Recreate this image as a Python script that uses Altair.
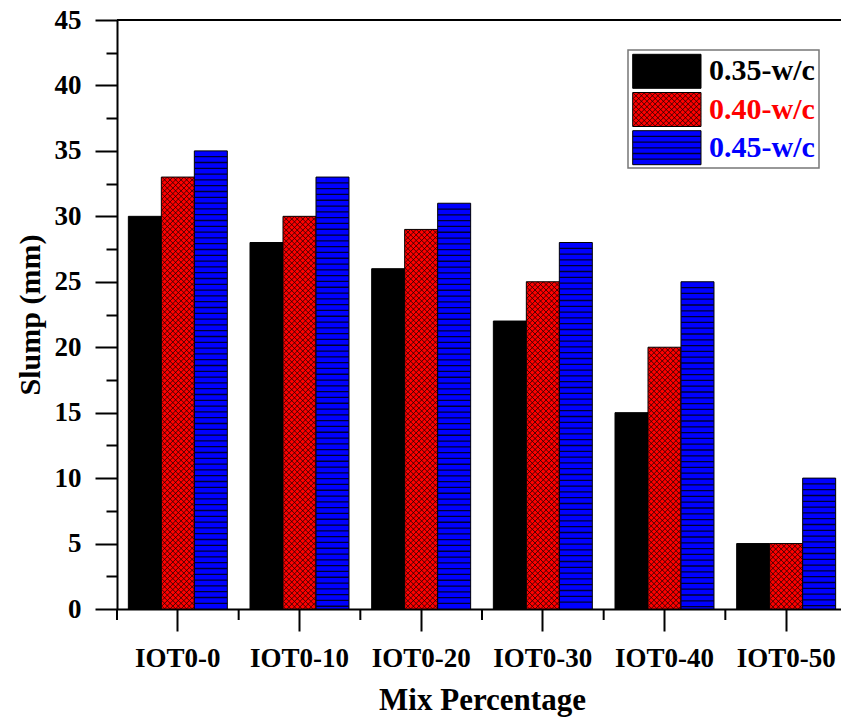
import altair as alt
import pandas as pd

# ---- data -------------------------------------------------------------
categories = ["IOT0-0", "IOT0-10", "IOT0-20", "IOT0-30", "IOT0-40", "IOT0-50"]
series_names = ["0.35-w/c", "0.40-w/c", "0.45-w/c"]
slump_035 = [30, 28, 26, 22, 15, 5]
slump_040 = [33, 30, 29, 25, 20, 5]
slump_045 = [35, 33, 31, 28, 25, 10]
series_colors = ["#000000", "#ff0000", "#0000ff"]

# ---- geometry ---------------------------------------------------------
W, H = 724, 589            # visible plot area
X_RANGE = 730              # band range (right frame falls just outside the page)
Y_MAX = 45
PX = H / Y_MAX             # pixels per mm of slump
OFF_PAD = 0.344            # outer padding of the sub-bands inside each group
BAR_W = X_RANGE / len(categories) / (3 + 2 * OFF_PAD)
FONT = "Liberation Serif"
TICK_FS = 27

rows = []
for name, vals in zip(series_names, [slump_035, slump_040, slump_045]):
    for cat, v in zip(categories, vals):
        rows.append({"mix": cat, "wc": name, "slump": v})
df = pd.DataFrame(rows)
mix_df = pd.DataFrame({"mix": categories})


def hatch_path(w, h, p, y0=0.0):
    """Diagonal cross-hatch tile of size w x h (pixels), clipped to the tile."""
    half = w / 2
    segs = []
    x = -half - h
    while x < half:
        t0 = max(0.0, -half - x)
        t1 = min(h, half - x)
        if t1 > t0:
            segs.append(f"M{x + t0:.2f},{y0 + t0:.2f}L{x + t1:.2f},{y0 + t1:.2f}")
            segs.append(f"M{x + t0:.2f},{y0 + h - t0:.2f}L{x + t1:.2f},{y0 + h - t1:.2f}")
        x += p
    return "".join(segs)


def hline_path(w, h, gap):
    half_w, half_h = w / 2, h / 2
    segs = []
    y = -half_h + gap
    while y < half_h - 1:
        segs.append(f"M{-half_w:.2f},{y:.2f}L{half_w:.2f},{y:.2f}")
        y += gap
    return "".join(segs)


# ---- shared encodings --------------------------------------------------
def x_enc(band_position=None):
    kw = {}
    if band_position is not None:
        kw["bandPosition"] = band_position
    return alt.X(
        "mix:N",
        sort=categories,
        title="Mix Percentage",
        scale=alt.Scale(domain=categories, range=[0, X_RANGE],
                        paddingInner=0, paddingOuter=0),
        axis=alt.Axis(
            labelAngle=0, labelFont=FONT, labelFontSize=TICK_FS, labelFontWeight="bold",
            labelColor="black", labelPadding=14,
            tickSize=22, tickWidth=2, tickColor="black",
            domainWidth=2, domainColor="black",
            titleFont=FONT, titleFontSize=31, titleFontWeight="bold",
            titleColor="black", titlePadding=14,
        ),
        **kw,
    )


xo_enc = alt.XOffset(
    "wc:N",
    scale=alt.Scale(domain=series_names, paddingInner=0, paddingOuter=OFF_PAD),
)

y_ticks = [i * 2.5 for i in range(19)]
y_enc = alt.Y(
    "slump:Q",
    title="Slump (mm)",
    scale=alt.Scale(domain=[0, Y_MAX], nice=False),
    axis=alt.Axis(
        values=y_ticks, format="d",
        labelExpr="datum.value % 5 === 0 ? datum.label : ''",
        labelOverlap=False,
        labelFont=FONT, labelFontSize=TICK_FS, labelFontWeight="bold",
        labelColor="black", labelPadding=14,
        tickSize={"condition": {"test": "datum.value % 5 === 0", "value": 22}, "value": 11},
        tickWidth=2, tickColor="black",
        domainWidth=2, domainColor="black", grid=False,
        titleFont=FONT, titleFontSize=30, titleFontWeight="bold",
        titleColor="black", titlePadding=9,
    ),
)

color_enc = alt.Color(
    "wc:N", scale=alt.Scale(domain=series_names, range=series_colors), legend=None
)

base = alt.Chart(df)

bars = base.mark_bar(stroke="black", strokeWidth=1).encode(
    x=x_enc(), xOffset=xo_enc, y=y_enc, color=color_enc
)

# horizontal line fill for the 0.45 w/c bars
LINE_GAP = 5.8 / PX
blue_lines = (
    base.transform_filter(alt.datum.wc == series_names[2])
    .transform_calculate(k=f"sequence(1, ceil(datum.slump / {LINE_GAP}))")
    .transform_flatten(["k"])
    .transform_calculate(slump=f"datum.slump - datum.k * {LINE_GAP}")
    .transform_filter("datum.slump > 0.1")
    .mark_tick(color="#000030", thickness=1.3, size=BAR_W, opacity=1)
    .encode(x=x_enc(), xOffset=xo_enc, y=y_enc)
)

# cross-hatch fill for the 0.40 w/c bars, stacked tiles from the top down
TILE = 5.5
TILE_U = TILE / PX
red_hatch = (
    base.transform_filter(alt.datum.wc == series_names[1])
    .transform_calculate(k=f"sequence(0, ceil(datum.slump / {TILE_U}))")
    .transform_flatten(["k"])
    .transform_calculate(slump=f"datum.slump - datum.k * {TILE_U}")
    .mark_point(
        shape=hatch_path(BAR_W - 1, TILE, TILE), size=4, filled=False,
        stroke="#1a0000", strokeWidth=0.8, opacity=1, clip=True,
    )
    .encode(x=x_enc(), xOffset=xo_enc, y=y_enc)
)

# minor ticks on the category axis at group boundaries
minor_x = alt.Chart(mix_df).mark_rule(color="black", strokeWidth=2).encode(
    x=x_enc(0), y=alt.value(H), y2=alt.value(H + 11)
)

# top frame line
top_line = alt.Chart(mix_df.head(1)).mark_rule(color="black", strokeWidth=2).encode(
    y=alt.value(0)
)

# ---- legend --------------------------------------------------------------
leg = pd.DataFrame({"wc": series_names, "row": [0, 1, 2]})
SW_X0, SW_X1 = 515.7, 584.0
SW_H, ROW = 34.0, 38.2
leg_base = alt.Chart(leg).transform_calculate(
    top=f"34.3 + datum.row * {ROW}",
    bottom=f"34.3 + datum.row * {ROW} + {SW_H}",
    mid=f"34.3 + datum.row * {ROW} + {SW_H / 2}",
)

leg_box = alt.Chart(leg.head(1)).mark_rect(
    fill="white", stroke="#777777", strokeWidth=1.5
).encode(x=alt.value(511), x2=alt.value(702), y=alt.value(30), y2=alt.value(148))

leg_swatch = leg_base.mark_rect(stroke="black", strokeWidth=1).encode(
    x=alt.value(SW_X0), x2=alt.value(SW_X1),
    y=alt.Y("top:Q", scale=None, axis=None), y2="bottom:Q",
    color=color_enc,
)

leg_hatch = leg_base.transform_filter(alt.datum.row == 1).mark_point(
    shape=hatch_path(SW_X1 - SW_X0 - 1, SW_H - 1, TILE, y0=-(SW_H - 1) / 2),
    size=4, filled=False, stroke="#1a0000", strokeWidth=0.8, opacity=1,
).encode(x=alt.value((SW_X0 + SW_X1) / 2), y=alt.Y("mid:Q", scale=None, axis=None))

leg_lines = leg_base.transform_filter(alt.datum.row == 2).mark_point(
    shape=hline_path(SW_X1 - SW_X0, SW_H, 5.7),
    size=4, filled=False, stroke="#000030", strokeWidth=1.3, opacity=1,
).encode(x=alt.value((SW_X0 + SW_X1) / 2), y=alt.Y("mid:Q", scale=None, axis=None))

leg_text = leg_base.mark_text(
    align="left", baseline="middle", font=FONT, fontSize=30, fontWeight="bold"
).encode(
    x=alt.value(592), y=alt.Y("mid:Q", scale=None, axis=None),
    text="wc:N", color=color_enc,
)

chart = (
    alt.layer(bars, red_hatch, blue_lines, minor_x, top_line,
              leg_box, leg_swatch, leg_hatch, leg_lines, leg_text)
    .properties(
        width=W, height=H,
        autosize=alt.AutoSizeParams(type="none"),
        padding={"left": 117, "top": 20, "right": 0, "bottom": 116},
        background="white",
    )
    .configure_view(stroke=None)
)

chart.save("out.html", embed_options={"renderer": "svg", "actions": False})
